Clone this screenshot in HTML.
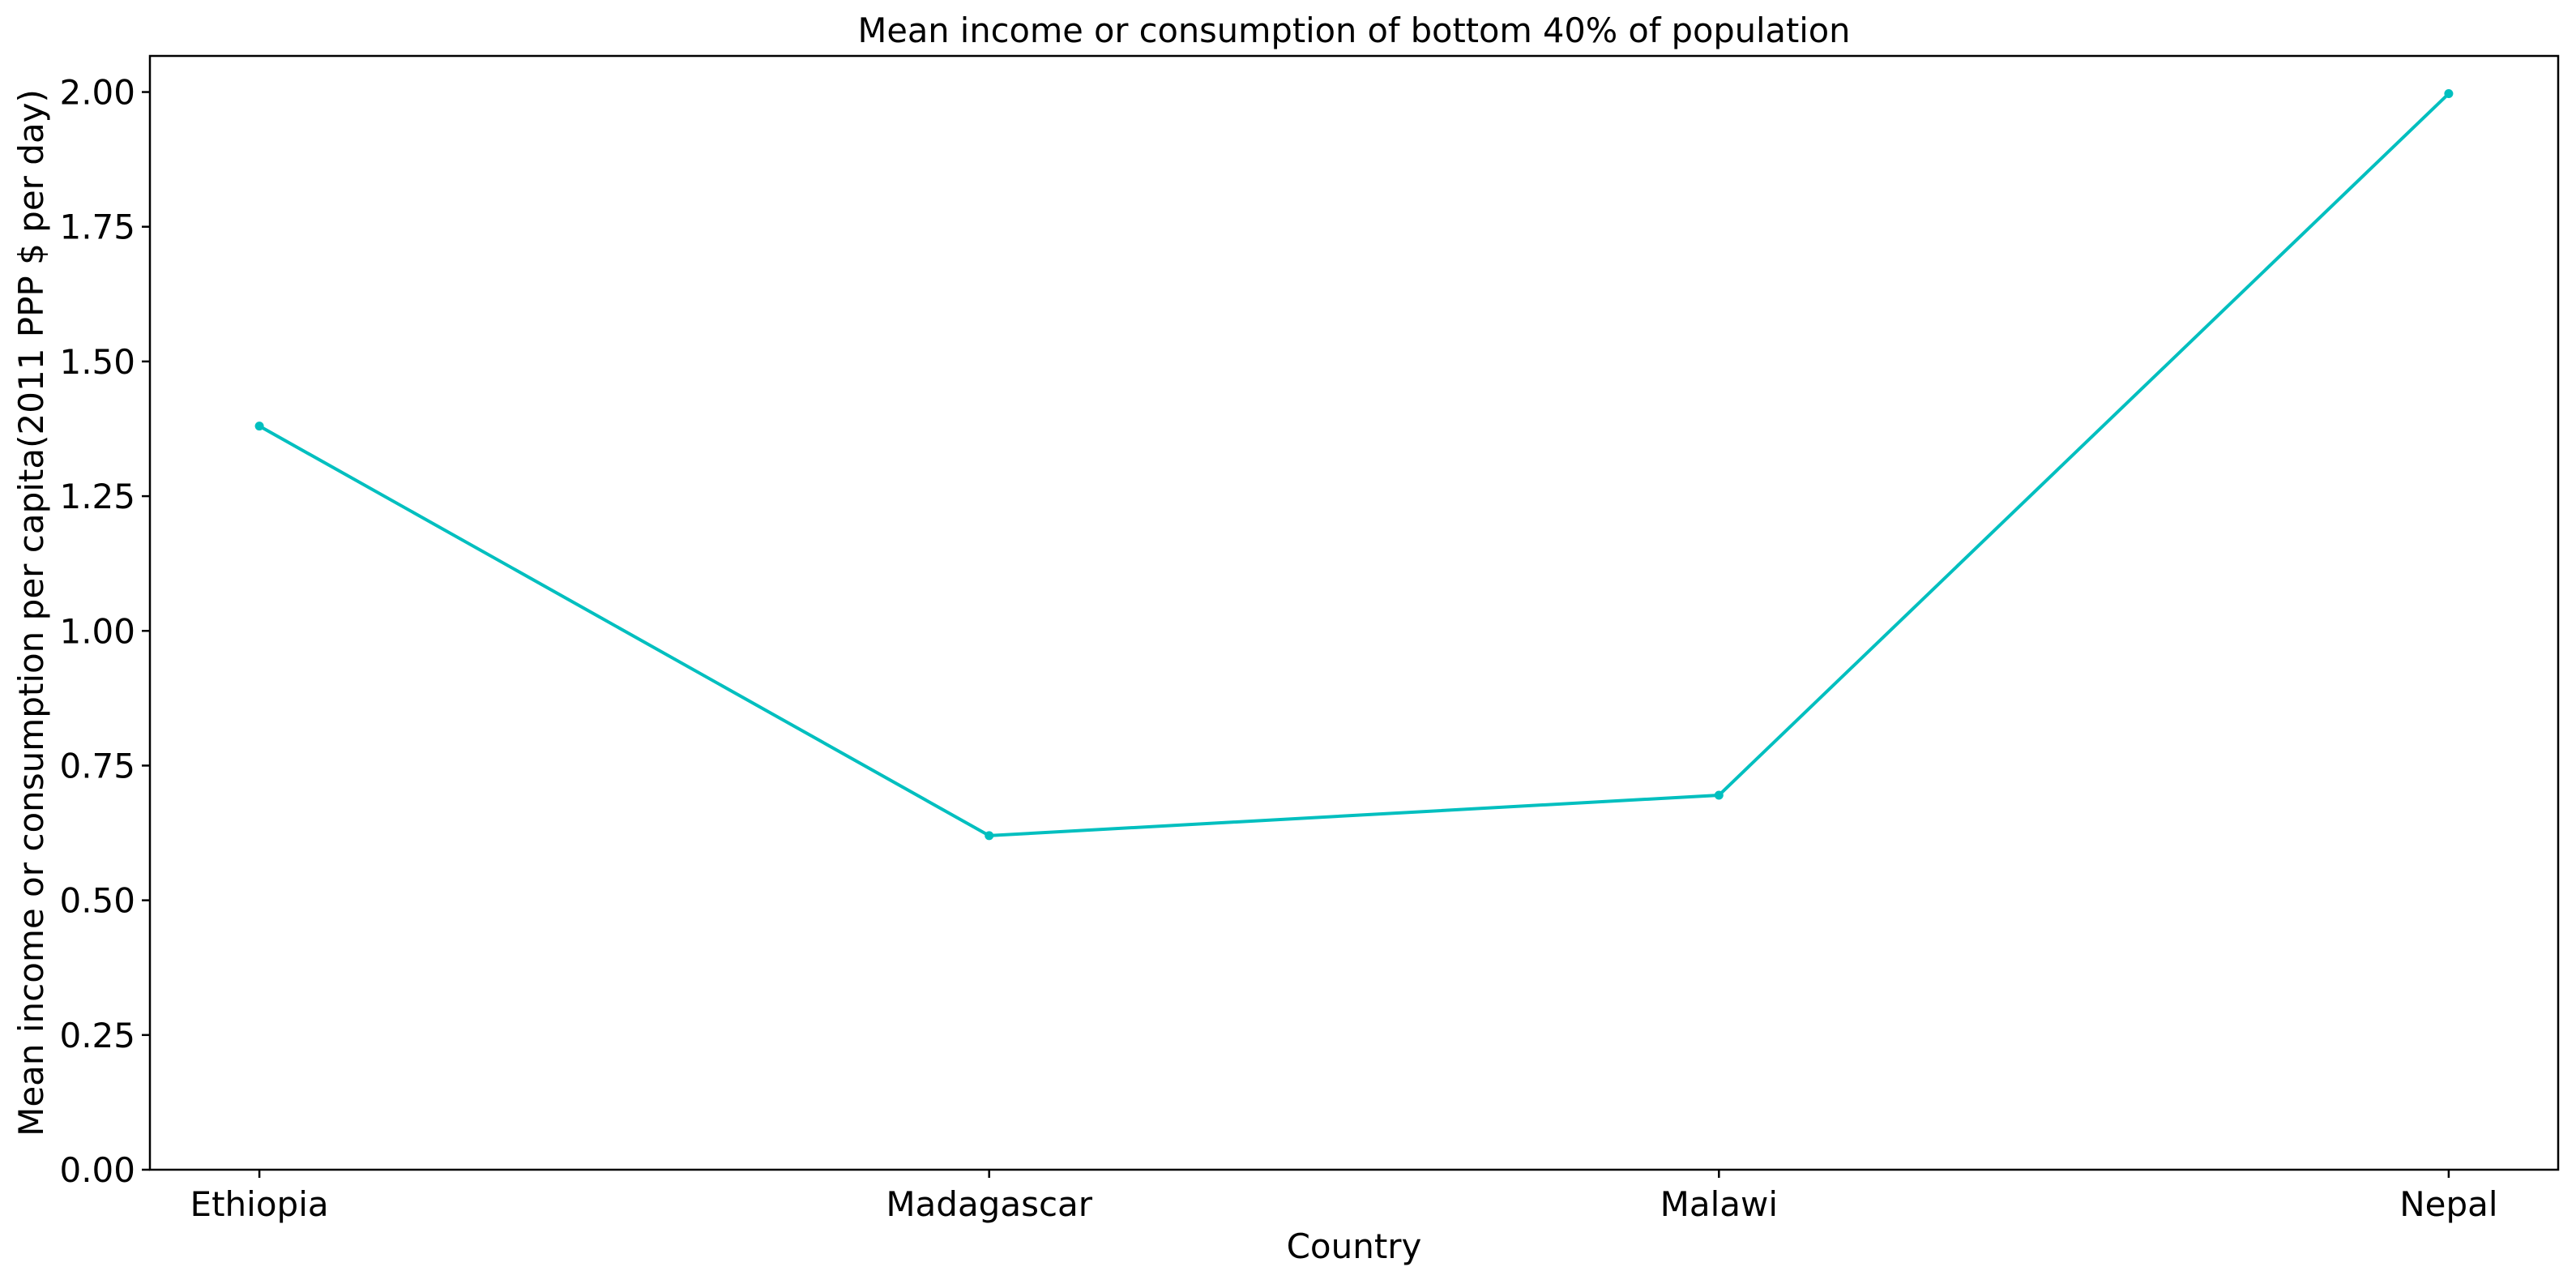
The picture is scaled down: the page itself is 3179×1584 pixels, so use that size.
<!DOCTYPE html>
<html><head><meta charset="utf-8"><style>
body{margin:0;background:#fff}
svg text{font-family:"DejaVu Sans","Liberation Sans",sans-serif;fill:#000}
</style></head><body>
<svg id="chart" width="3179" height="1579" xmlns="http://www.w3.org/2000/svg">
<rect width="3179" height="1579" fill="#fff"/>
<g id="g"></g>
</svg>
<script>
const categories=["Ethiopia","Madagascar","Malawi","Nepal"];
const values=[1.38,0.62,0.695,1.997];
const yTicks=[0,0.25,0.5,0.75,1.0,1.25,1.5,1.75,2.0];
const yTickLabels=["0.00","0.25","0.50","0.75","1.00","1.25","1.50","1.75","2.00"];
const L=185,R=3157,T=69,B=1443;
const yMax=2.067;
function xs(i){return L+(i+0.15)/3.3*(R-L);}
function ys(v){return B-v/yMax*(B-T);}
const NS="http://www.w3.org/2000/svg";
const g=document.getElementById('g');
function mk(t,a,txt){const e=document.createElementNS(NS,t);for(const k in a)e.setAttribute(k,a[k]);if(txt!=null)e.textContent=txt;g.appendChild(e);return e;}
yTicks.forEach((v,i)=>{
 const tk=mk('line',{x1:L-10,x2:L,y1:ys(v),y2:ys(v),stroke:'#000','stroke-width':2.5});
 
 
 const t=mk('text',{x:L-18,y:ys(v)+15,'font-size':42,'text-anchor':'end'},yTickLabels[i]);
 
 
});
categories.forEach((c,i)=>{
 const tk=mk('line',{x1:xs(i),x2:xs(i),y1:B,y2:B+10,stroke:'#000','stroke-width':2.5});
 
 
 const t=mk('text',{x:xs(i),y:B+57,'font-size':42,'text-anchor':'middle'},c);
 
 
});
const pts=values.map((v,i)=>xs(i)+','+ys(v)).join(' ');
const line=mk('polyline',{points:pts,fill:'none',stroke:'#00bfbf','stroke-width':4});


values.forEach((v,i)=>{
 const p=mk('circle',{cx:xs(i),cy:ys(v),r:5.5,fill:'#00bfbf'});
 
 
});
const fr=mk('rect',{x:L,y:T,width:R-L,height:B-T,fill:'none',stroke:'#000','stroke-width':2.5});


const ti=mk('text',{x:(L+R)/2,y:52,'font-size':41.5,'text-anchor':'middle'},'Mean income or consumption of bottom 40% of population');


const xl=mk('text',{x:(L+R)/2,y:1552,'font-size':42,'text-anchor':'middle'},'Country');


const yl=mk('text',{x:0,y:0,'font-size':42,'text-anchor':'middle',transform:'translate(53,756) rotate(-90)'},'Mean income or consumption per capita(2011 PPP $ per day)');


</script>
</body></html>
